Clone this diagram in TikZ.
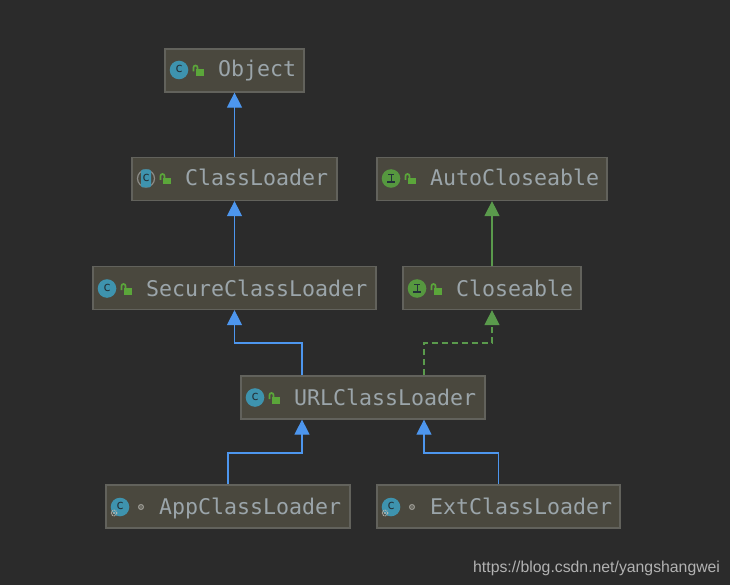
\documentclass[tikz,border=0pt]{standalone}
\usepackage{fontspec}
\setmonofont{DejaVu Sans Mono}
\setsansfont{Liberation Sans}
\usetikzlibrary{arrows.meta}
\definecolor{canvas}{HTML}{2B2B2B}
\definecolor{boxfill}{HTML}{4A483E}
\definecolor{boxline}{HTML}{62625C}
\definecolor{labelcol}{HTML}{9BA5AA}
\definecolor{extendblue}{HTML}{4D96EE}
\definecolor{implgreen}{HTML}{5A9A4C}
\definecolor{classteal}{HTML}{3E93AE}
\definecolor{ifacegreen}{HTML}{56983F}
\definecolor{lockgreen}{HTML}{5BA63A}
\definecolor{glyphdark}{HTML}{23323A}
\definecolor{gearcol}{HTML}{B4B4AE}
\tikzset{
  x=1pt,y=-1pt,
  typebox/.style={draw=boxline,line width=1.2pt,fill=boxfill,inner sep=0pt,
    minimum width=#1,minimum height=43pt},
  typename/.style={anchor=base west,inner sep=0pt,text=labelcol,
    font=\ttfamily\fontsize{21.6}{24}\selectfont},
  extends/.style={draw=extendblue,line width=1.1pt,-{Triangle[length=15pt,width=15pt]}},
  implements/.style={draw=implgreen,line width=1.1pt,-{Triangle[length=15pt,width=15pt]}},
  realizes/.style={implements,dash pattern=on 6pt off 4pt},
  pics/classicon/.style={code={
    \fill[classteal] (0,0) circle[radius=9.3];
    \node[text=glyphdark,inner sep=0pt,font=\ttfamily\fontsize{13}{13}\selectfont] at (0,-1) {c};
  }},
  pics/abstracticon/.style={code={
    \draw[gearcol!70!canvas,line width=1.2pt,fill=boxfill] (0,0) circle[radius=8.5];
    \fill[classteal,rounded corners=2pt] (-5,-9) rectangle (5,9);
    \node[text=glyphdark,inner sep=0pt,font=\ttfamily\fontsize{13}{13}\selectfont] at (0,-1) {c};
  }},
  pics/ifaceicon/.style={code={
    \fill[ifacegreen] (0,0) circle[radius=9.3];
    \draw[glyphdark,line width=0.9pt] (-3,-4) -- (3,-4) (0,-4) -- (0,3);
    \draw[glyphdark,line width=1.4pt] (-4,3.5) -- (4,3.5);
  }},
  pics/openlock/.style={code={
    \fill[lockgreen] (-3,-0.5) rectangle (5,6);
    \draw[lockgreen,line width=1.7pt] (-5.5,1.5) -- (-5.5,-2.5)
      arc[start angle=180,end angle=360,radius=2] -- (-1.5,0);
  }},
  pics/gearbadge/.style={code={
    \draw[gearcol,line width=1.1pt,dash pattern=on 1pt off 0.8pt] (0,0) circle[radius=2.8];
    \fill[gearcol] (0,0) circle[radius=1.2];
  }},
  pics/packagedot/.style={code={
    \draw[gearcol!75!boxfill,line width=1.2pt] (0,0) circle[radius=2.4];
    \fill[gearcol!75!boxfill] (0,0) circle[radius=0.9];
  }},
}
\begin{document}
\begin{tikzpicture}
\useasboundingbox[fill=canvas] (0,0) rectangle (730,585);

% class boxes
\node[typebox=139pt] (object) at (234.5,70.5) {};
\node[typebox=205pt] (classloader) at (234.5,179) {};
\node[typebox=230pt] (autocloseable) at (492,179) {};
\node[typebox=283pt] (secure) at (234.5,288) {};
\node[typebox=178pt] (closeable) at (492,288) {};
\node[typebox=244pt] (urlloader) at (363,397.5) {};
\node[typebox=244pt] (apploader) at (228,506.5) {};
\node[typebox=243pt] (extloader) at (498.5,506.5) {};

% icons
\pic at (179,70) {classicon};
\pic at (199,70) {openlock};
\pic at (146,178.5) {abstracticon};
\pic at (166,178.5) {openlock};
\pic at (391,178.5) {ifaceicon};
\pic at (411,178.5) {openlock};
\pic at (107,288.5) {classicon};
\pic at (127,288.5) {openlock};
\pic at (417,288.5) {ifaceicon};
\pic at (437,288.5) {openlock};
\pic at (255,397.5) {classicon};
\pic at (275,397.5) {openlock};
\pic at (120,507) {classicon};
\pic at (114,513) {gearbadge};
\pic at (141,507) {packagedot};
\pic at (391,507) {classicon};
\pic at (385,513) {gearbadge};
\pic at (412,507) {packagedot};

% class names
\node[typename] (tobject) at (218,77) {Object};
\node[typename] (tclassloader) at (185,186) {ClassLoader};
\node[typename] (tauto) at (430,186) {AutoCloseable};
\node[typename] (tsecure) at (146,296) {SecureClassLoader};
\node[typename] (tcloseable) at (456,296) {Closeable};
\node[typename] (turl) at (294,405) {URLClassLoader};
\node[typename] (tapp) at (159,514) {AppClassLoader};
\node[typename] (text) at (430,514) {ExtClassLoader};

% inheritance edges
\coordinate (urlleft) at ([xshift=-61pt]urlloader.north);
\coordinate (urlright) at ([xshift=61pt]urlloader.north);
\coordinate (appjoin) at (228,453);
\coordinate (extjoin) at (498.5,453);
\draw[extends] (classloader.north) -- (object.south);
\draw[extends] (secure.north) -- (classloader.south);
\draw[extends] (urlleft) |- (234.5,343) -- (secure.south);
\draw[extends] (apploader.north) -- (appjoin) -| (urlleft |- urlloader.south);
\draw[extends] (extloader.north) -- (extjoin) -| (urlright |- urlloader.south);
\draw[implements] (closeable.north) -- (autocloseable.south);
\draw[realizes] (urlright) |- (492,343) -- (closeable.south);

% image credit line
\node[anchor=base west,inner sep=0pt,text=gray!60!white,font=\sffamily\fontsize{15.8}{18}\selectfont] (credit) at (473,572) {https://blog.csdn.net/yangshangwei};
\end{tikzpicture}
\end{document}
